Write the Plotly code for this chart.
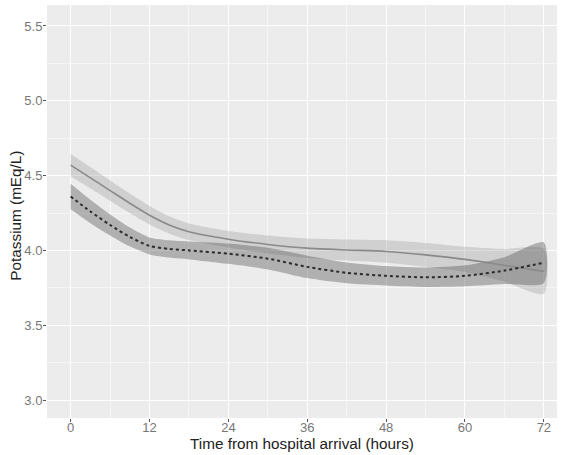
import plotly.graph_objects as go

hours = [0, 3, 6, 9, 12, 15, 18, 24, 30, 36, 42, 48, 54, 60, 66, 72]

solid_mean = [4.57, 4.485, 4.40, 4.315, 4.235, 4.17, 4.125, 4.075, 4.04, 4.015, 4.003, 3.993, 3.97, 3.94, 3.90, 3.86]
solid_half = [0.075, 0.072, 0.068, 0.065, 0.062, 0.058, 0.055, 0.055, 0.06, 0.065, 0.07, 0.075, 0.08, 0.085, 0.11, 0.15]

dashed_mean = [4.36, 4.26, 4.17, 4.09, 4.03, 4.01, 4.0, 3.978, 3.945, 3.89, 3.85, 3.83, 3.82, 3.83, 3.865, 3.918]
dashed_half = [0.085, 0.078, 0.07, 0.063, 0.057, 0.058, 0.06, 0.068, 0.072, 0.075, 0.07, 0.065, 0.065, 0.07, 0.09, 0.135]

x_ticks = [0, 12, 24, 36, 48, 60, 72]
y_ticks = [3.0, 3.5, 4.0, 4.5, 5.0, 5.5]
y_tick_labels = ["3.0", "3.5", "4.0", "4.5", "5.0", "5.5"]

FONT = "Liberation Sans, Arial, sans-serif"


def band(mean, half):
    upper = [m + h for m, h in zip(mean, half)]
    lower = [m - h for m, h in zip(mean, half)]
    return hours + hours[::-1], upper + lower[::-1]


fig = go.Figure()

bx, by = band(solid_mean, solid_half)
fig.add_trace(go.Scatter(x=bx, y=by, fill="toself", mode="lines",
                         line=dict(width=0, shape="spline", smoothing=0.7),
                         fillcolor="rgba(150,150,150,0.32)", hoverinfo="skip",
                         showlegend=False))
dx, dy = band(dashed_mean, dashed_half)
fig.add_trace(go.Scatter(x=dx, y=dy, fill="toself", mode="lines",
                         line=dict(width=0, shape="spline", smoothing=0.7),
                         fillcolor="rgba(80,80,80,0.38)", hoverinfo="skip",
                         showlegend=False))
fig.add_trace(go.Scatter(x=hours, y=solid_mean, mode="lines",
                         line=dict(color="#8a8a8a", width=1.6, shape="spline", smoothing=0.7),
                         showlegend=False))
fig.add_trace(go.Scatter(x=hours, y=dashed_mean, mode="lines",
                         line=dict(color="#2b2b2b", width=2, dash="3px,3px",
                                   shape="spline", smoothing=0.7),
                         showlegend=False))

axis_common = dict(
    showgrid=True, gridcolor="white", gridwidth=1.1,
    zeroline=False, showline=False, automargin=False,
    ticks="outside", ticklen=3, tickcolor="#555555", tickwidth=1,
    tickfont=dict(family=FONT, size=13, color="#777777"),
    title_font=dict(family=FONT, size=15.3, color="#222222"),
)

fig.update_xaxes(**axis_common, range=[-3.6, 74.0], tickvals=x_ticks,
                 ticklabelstandoff=-6,
                 title_text="Time from hospital arrival (hours)", title_standoff=0,
                 minor=dict(showgrid=True, gridcolor="rgba(255,255,255,0.55)", gridwidth=0.6, dtick=6, tick0=0))
fig.update_yaxes(**axis_common, range=[2.88, 5.64], tickvals=y_ticks, ticktext=y_tick_labels,
                 ticklabelstandoff=-2,
                 minor=dict(showgrid=True, gridcolor="rgba(255,255,255,0.55)", gridwidth=0.6, dtick=0.25, tick0=3.0))

fig.add_annotation(text="Potassium (mEq/L)", textangle=-90, showarrow=False,
                   xref="paper", yref="paper", x=-31 / 510, y=0.49,
                   xanchor="center", yanchor="middle",
                   font=dict(family=FONT, size=15.3, color="#222222"))

fig.update_layout(
    width=564, height=455,
    margin=dict(l=47, r=7, t=5, b=37),
    paper_bgcolor="white", plot_bgcolor="#ECECEC",
    showlegend=False,
)

fig.write_html("out.html", config={"displayModeBar": False},
               post_script="document.body.style.margin='0';document.body.style.padding='0';")
